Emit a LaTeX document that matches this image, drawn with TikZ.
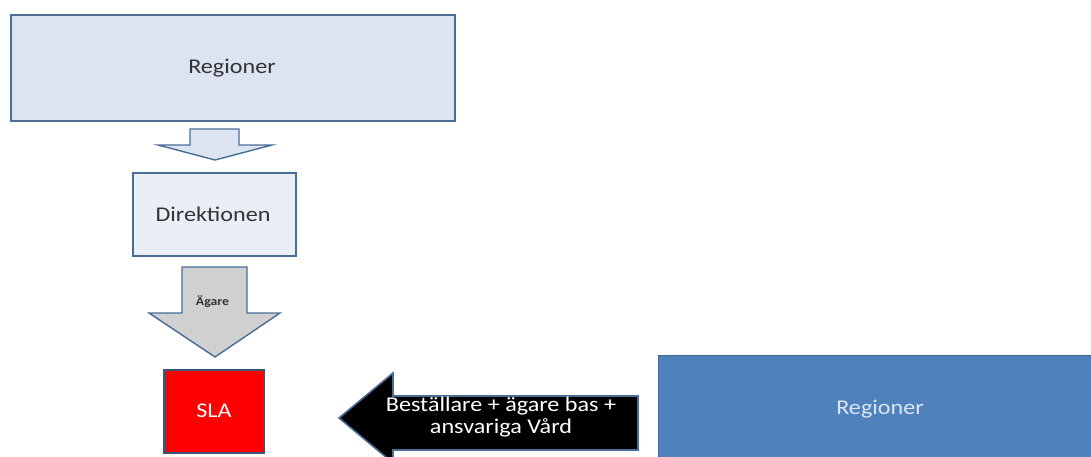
\documentclass[tikz,border=0pt]{standalone}
\usepackage{fontspec}
\setmainfont{Carlito}[FakeStretch=1.15]
\definecolor{edgeblue}{HTML}{4A6D96}
\definecolor{fillA}{HTML}{DCE4F1}
\definecolor{fillB}{HTML}{EAEFF7}
\definecolor{grayarrow}{HTML}{D0D0D0}
\definecolor{boxblue}{HTML}{4F81BD}
\definecolor{lighttext}{HTML}{DCE6F2}
\definecolor{darktext}{HTML}{333333}
\begin{document}
\begin{tikzpicture}[x=1pt,y=-1pt,
  box/.style={draw=edgeblue,line width=1.6pt},
  blockarrow/.style={draw=edgeblue,line width=1.4pt,line join=miter},
  lbl/.style={inner sep=0pt,font=\fontsize{21}{22}\selectfont,text=darktext}]
\useasboundingbox (0,0) rectangle (1091,456);
% top box
\path[box,fill=fillA] (11,15) rectangle (455,121);
\node[lbl] (reg1) at (232,68) {Regioner};
% small arrow
\path[blockarrow,fill=fillA] (190,129) -- (239,129) -- (239,145) -- (272,145) -- (215,160) -- (158,145) -- (190,145) -- cycle;
% Direktionen
\path[box,fill=fillB] (133,173) rectangle (296,256);
\node[lbl] (dir) at (213,214) {Direktionen};
% Ägare arrow
\path[blockarrow,fill=grayarrow] (182,267) -- (247,267) -- (247,313) -- (280,313) -- (215,357) -- (149,313) -- (182,313) -- cycle;
\node[inner sep=0pt,font=\fontsize{12}{14}\selectfont\bfseries,text=darktext] (agare) at (212.5,302) {Ägare};
% SLA
\path[box,draw=edgeblue!80!black,fill=red] (164,370) rectangle (264,453);
\node[lbl,text=white] (sla) at (214,411) {SLA};
% black arrow
\path[blockarrow,fill=black,line width=1.6pt] (638,396) -- (393,396) -- (393,373) -- (339,418) -- (393,463) -- (393,450) -- (638,450) -- cycle;
\node[lbl,text=white,align=center] (best) at (501,417) {Beställare + ägare bas +\\ansvariga Vård};
% right box
\path[fill=boxblue,draw=boxblue!80!black,line width=1pt] (658,355) rectangle (1095,460);
\node[lbl,text=lighttext] (reg2) at (880,409) {Regioner};
\end{tikzpicture}
\end{document}
